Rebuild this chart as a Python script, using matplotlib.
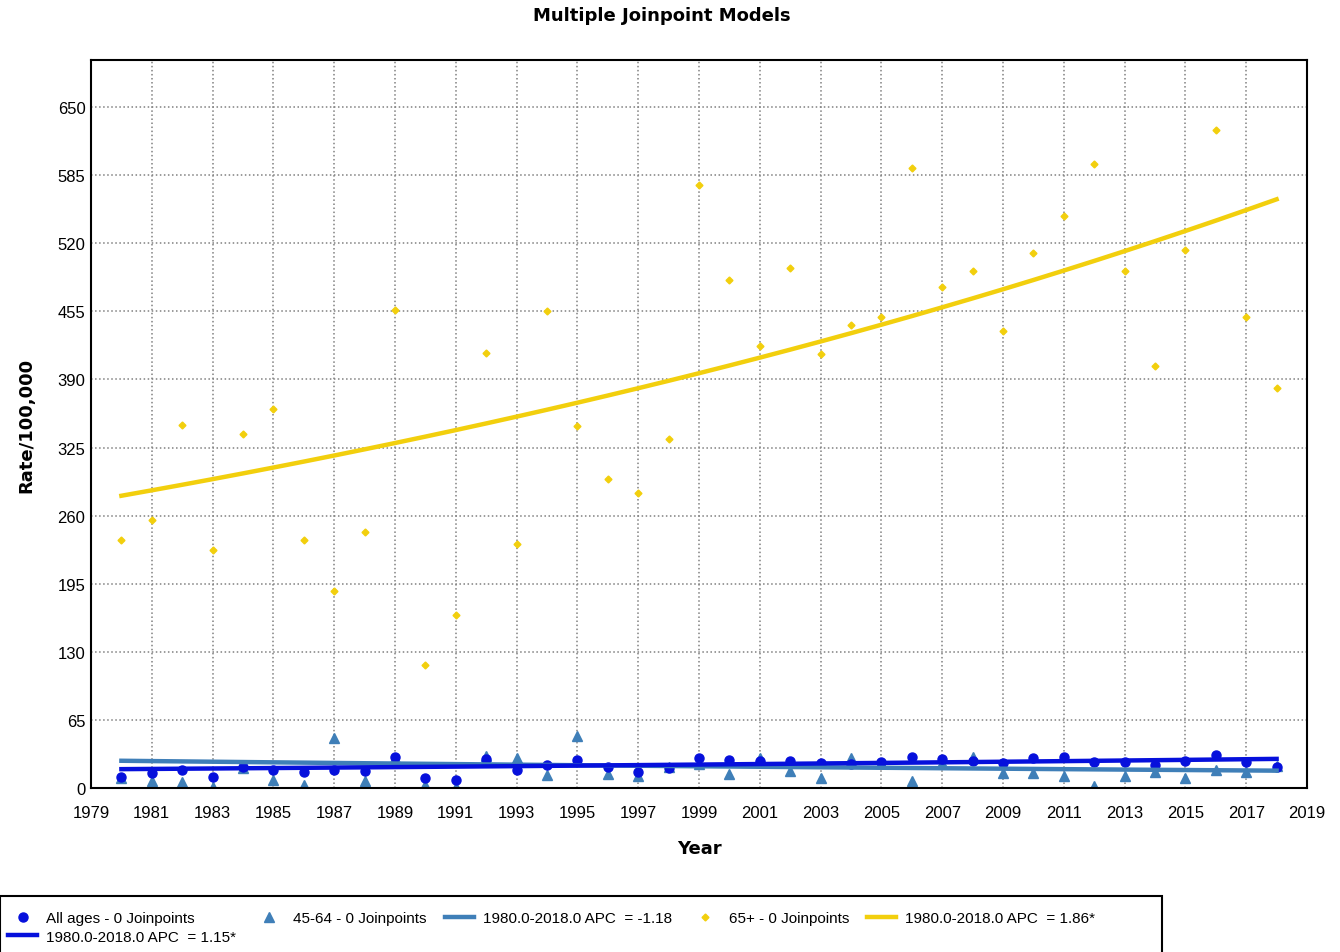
import numpy as np
import matplotlib
matplotlib.use('Agg')
import matplotlib.pyplot as plt
from matplotlib.patches import Rectangle

plt.rcParams['font.family'] = ['Liberation Sans', 'DejaVu Sans']

years = list(range(1980, 2019))

# observed rates per 100,000
all_ages = [10.8, 14.3, 17.5, 10.8, 19.8, 17.5, 15.6, 17.5, 16.5, 29.3,
            9.5, 7.3, 27.7, 17.2, 22.3, 26.7, 19.7, 15.6, 18.8, 28.6,
            27.0, 26.0, 25.5, 24.0, 23.0, 24.5, 29.3, 27.7, 26.0, 23.5,
            28.3, 29.3, 24.5, 24.5, 22.0, 26.0, 31.5, 25.1, 19.7]
age_45_64 = [9.5, 7.0, 5.4, 0.5, 19.0, 8.0, 2.9, 47.4, 7.0, 29.0,
             3.0, 0.5, 30.8, 28.3, 12.4, 49.3, 13.4, 11.7, 19.7, 23.0,
             13.4, 28.3, 16.5, 9.2, 28.3, 23.5, 7.0, 24.0, 29.3, 14.3,
             14.3, 11.7, 1.6, 11.1, 15.6, 9.2, 17.5, 15.0, 21.3]
age_65 = [237, 256, 347, 227, 338, 362, 237, 188, 244, 456,
          117, 165, 415, 233, 455, 346, 295, 282, 333, 576,
          485, 422, 496, 414, 442, 450, 592, 478, 494, 436,
          511, 546, 596, 494, 403, 514, 628, 450, 382]

# joinpoint fits: value at 1980 and annual percent change
fit_start = {'all': 18.0, '45-64': 26.0, '65+': 279.0}
fit_apc = {'all': 1.15, '45-64': -1.18, '65+': 1.86}

c_all = '#0610dc'
c_mid = '#3f7fb8'
c_old = '#f2cf0d'

fig = plt.figure(figsize=(13.4, 9.53), dpi=100)
ax = fig.add_axes([91/1340, 1-789/953, (1307-91)/1340, (789-61)/953])

yrs = np.array(years)
def trend(key):
    return fit_start[key] * (1 + fit_apc[key]/100.0) ** (yrs - 1980)

h_old, = ax.plot(years, age_65, linestyle='none', marker='D', ms=3.5,
                 color=c_old, label='65+ - 0 Joinpoints')
h_mid, = ax.plot(years, age_45_64, linestyle='none', marker='^', ms=6.5,
                 color=c_mid, label='45-64 - 0 Joinpoints')
h_all, = ax.plot(years, all_ages, linestyle='none', marker='o', ms=6.5,
                 color=c_all, label='All ages - 0 Joinpoints')
l_old, = ax.plot(years, trend('65+'), color=c_old, lw=3.2,
                 label='1980.0-2018.0 APC  = 1.86*')
l_mid, = ax.plot(years, trend('45-64'), color=c_mid, lw=3.2,
                 label='1980.0-2018.0 APC  = -1.18')
l_all, = ax.plot(years, trend('all'), color=c_all, lw=3.2,
                 label='1980.0-2018.0 APC  = 1.15*')

ax.set_xlim(1979, 2019)
ax.set_ylim(0, 695)
ax.set_xticks(range(1979, 2020, 2))
ax.set_yticks(range(0, 651, 65))
ax.tick_params(length=0, labelsize=12)
ax.tick_params(axis='x', pad=12)
ax.tick_params(axis='y', pad=4)
ax.grid(True, linestyle=':', color='#808080', lw=1.1)
for s in ax.spines.values():
    s.set_linewidth(1.5)
    s.set_color('black')

ax.set_xlabel('Year', fontsize=13, fontweight='bold', family='DejaVu Sans', labelpad=14)
ax.set_ylabel('Rate/100,000', fontsize=13, fontweight='bold', family='DejaVu Sans', labelpad=16)
fig.text(662/1340, 1-16/953, 'Multiple Joinpoint Models', ha='center', va='center',
         fontsize=13, fontweight='bold', family='DejaVu Sans')

# legend box at bottom
fig.patches.append(Rectangle((0.0, -0.05), 1162/1340, (953-897)/953 + 0.05,
                             transform=fig.transFigure, fill=False,
                             edgecolor='black', lw=1.5))
handles = [h_all, l_all, h_mid, l_mid, h_old, l_old]
fig.legend(handles=handles, loc='upper left', bbox_to_anchor=(2/1340, 1-906/953),
           ncol=5, frameon=False, fontsize=11, handlelength=1.9,
           columnspacing=1.2, labelspacing=0.3, handletextpad=0.6,
           borderaxespad=0)

fig.savefig('out.png', dpi=100)
